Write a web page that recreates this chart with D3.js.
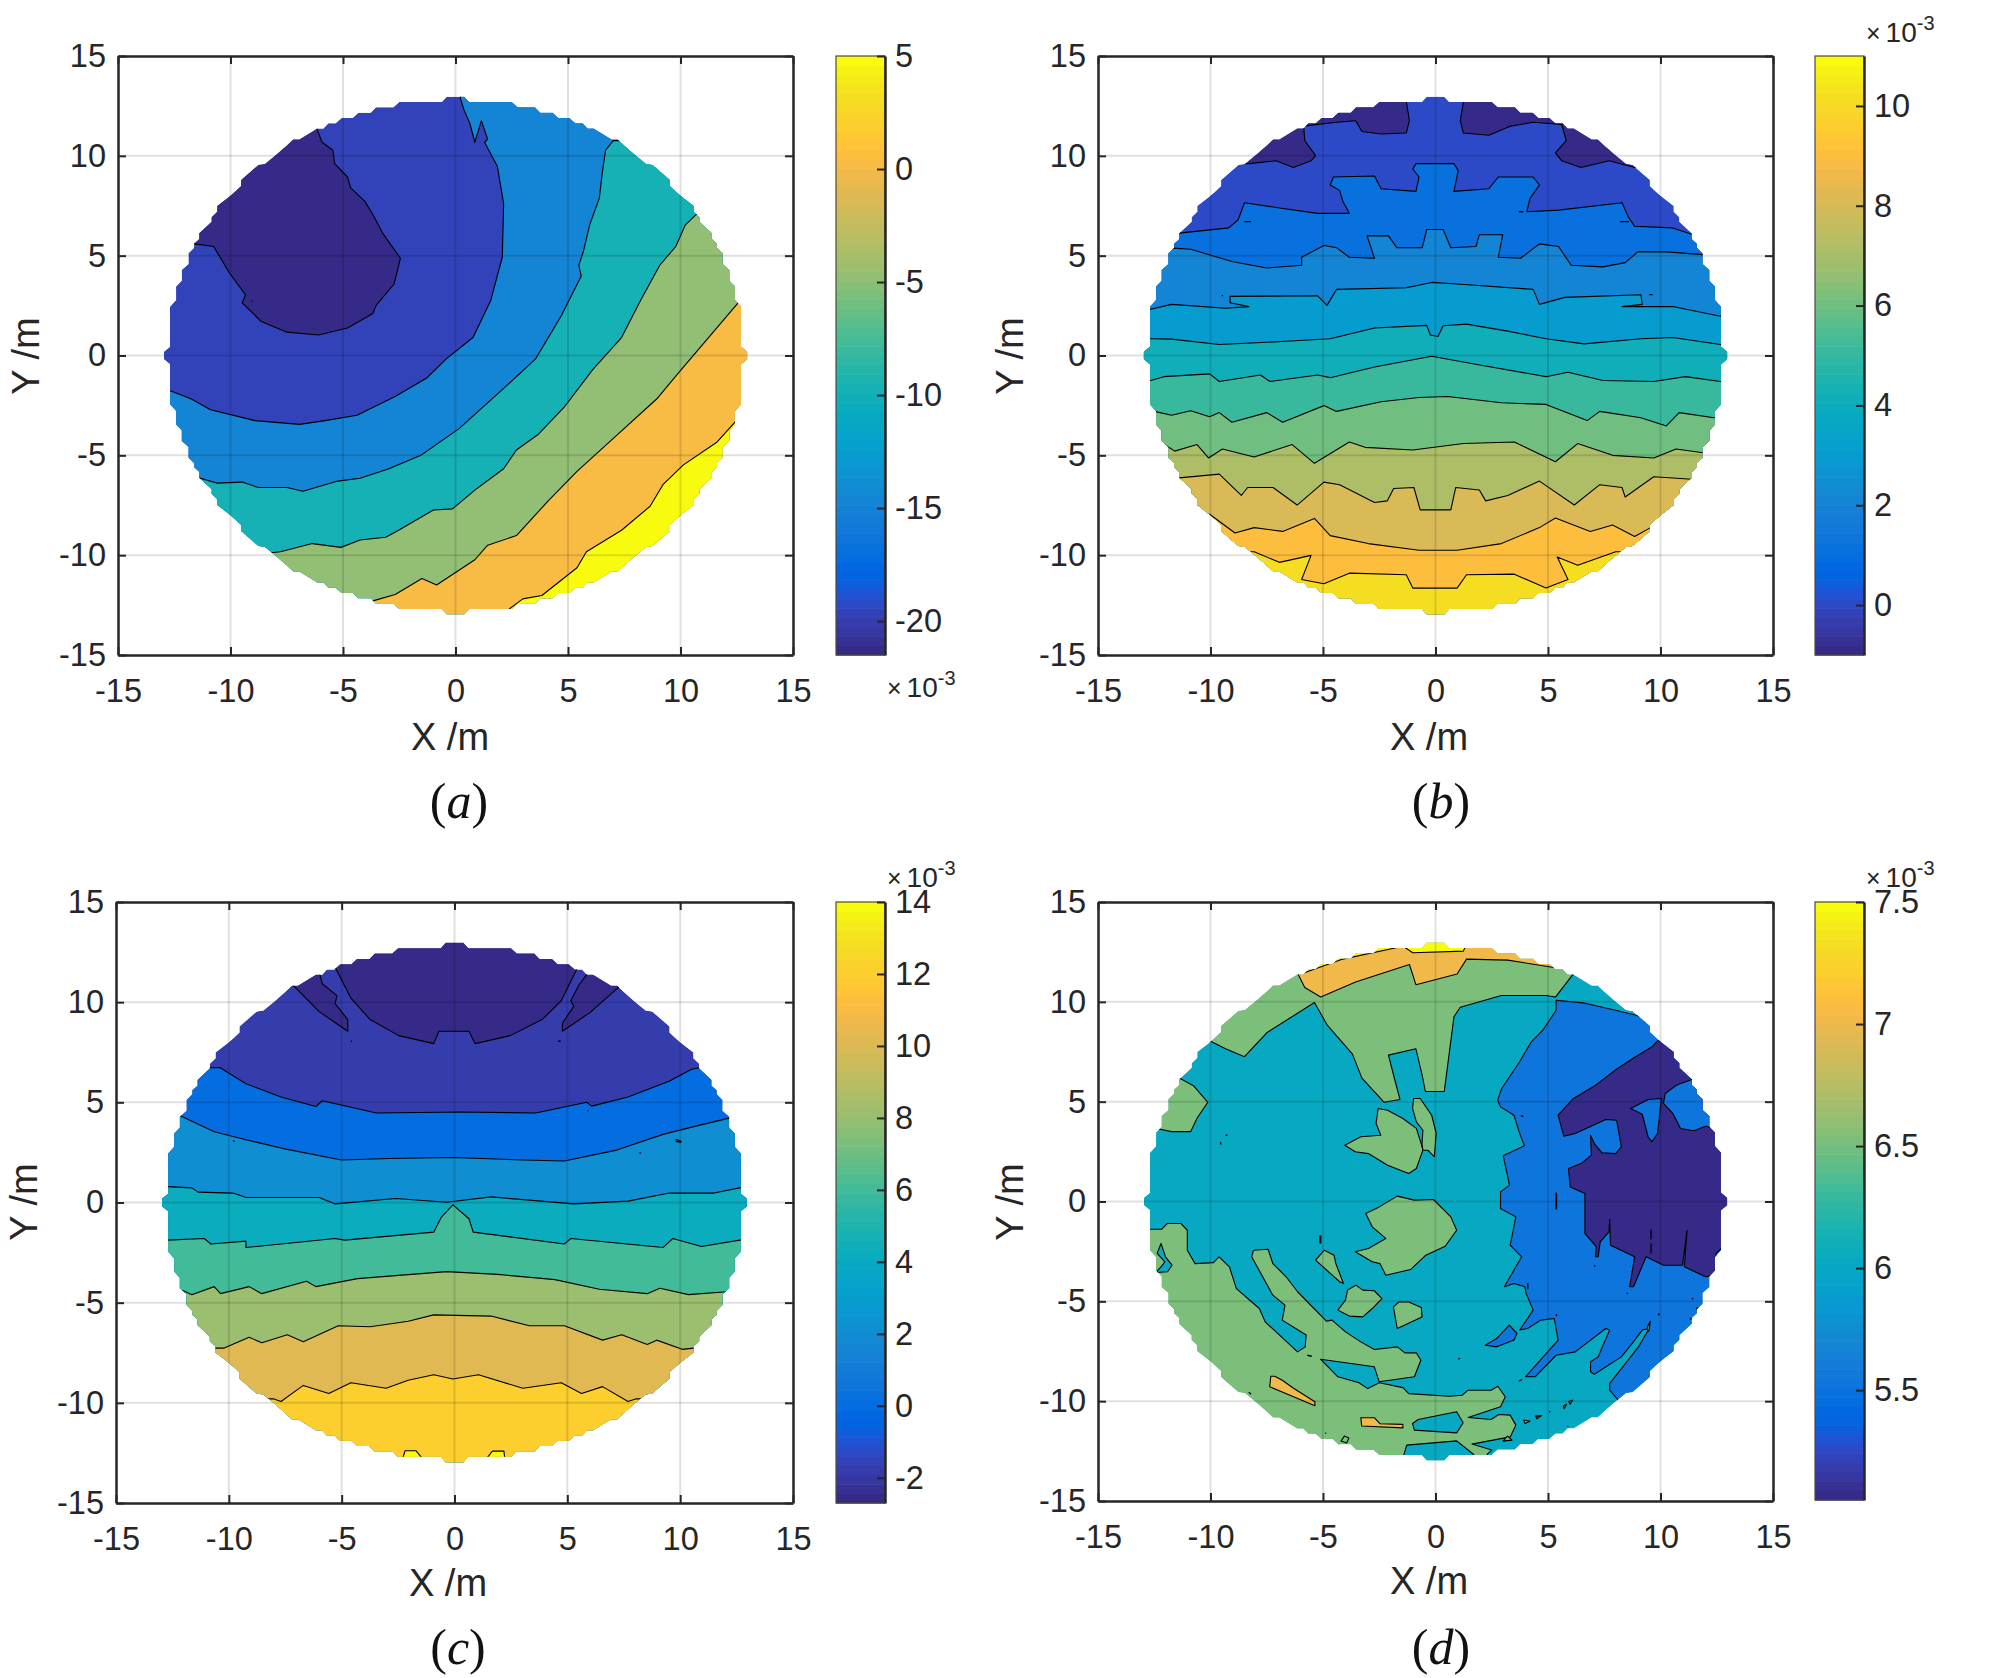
<!DOCTYPE html>
<html><head><meta charset="utf-8">
<script src="https://cdn.jsdelivr.net/npm/d3@7/dist/d3.min.js"></script>
<style>html,body{margin:0;background:#fff}svg{display:block}</style></head>
<body><svg id="c" width="1995" height="1678" xmlns="http://www.w3.org/2000/svg"></svg>
<script>
const parulaTable=[[.2081,.1663,.5292],[.2116,.1898,.5777],[.2123,.2138,.6270],[.2081,.2386,.6771],[.1959,.2645,.7279],[.1707,.2919,.7792],[.1253,.3242,.8303],[.0591,.3598,.8683],[.0117,.3875,.8820],[.0060,.4086,.8828],[.0165,.4266,.8786],[.0329,.4430,.8720],[.0498,.4586,.8641],[.0629,.4737,.8554],[.0723,.4887,.8467],[.0779,.5040,.8384],[.0793,.5200,.8312],[.0749,.5375,.8263],[.0641,.5570,.8240],[.0488,.5772,.8228],[.0343,.5966,.8199],[.0265,.6137,.8135],[.0239,.6287,.8038],[.0231,.6418,.7913],[.0228,.6535,.7768],[.0267,.6642,.7607],[.0384,.6743,.7436],[.0590,.6838,.7254],[.0843,.6928,.7062],[.1133,.7015,.6859],[.1453,.7098,.6646],[.1801,.7177,.6424],[.2178,.7250,.6193],[.2586,.7317,.5954],[.3022,.7376,.5712],[.3482,.7424,.5473],[.3953,.7459,.5244],[.4420,.7481,.5033],[.4871,.7491,.4840],[.5300,.7491,.4661],[.5709,.7485,.4494],[.6099,.7473,.4337],[.6473,.7456,.4188],[.6834,.7435,.4044],[.7184,.7411,.3905],[.7525,.7384,.3768],[.7858,.7356,.3633],[.8185,.7327,.3498],[.8507,.7299,.3360],[.8824,.7274,.3217],[.9139,.7258,.3063],[.9450,.7261,.2886],[.9739,.7314,.2666],[.9938,.7455,.2403],[.9990,.7653,.2164],[.9955,.7861,.1967],[.9880,.8066,.1794],[.9789,.8271,.1633],[.9697,.8481,.1475],[.9626,.8705,.1309],[.9589,.8949,.1132],[.9598,.9218,.0948],[.9661,.9514,.0755],[.9763,.9831,.0538]];

// stair-stepped outline of the measured disc, one quadrant in metres
const rimQuarter=[[12.96,0],[12.96,.19],[12.69,.44],[12.69,2.44],[12.42,2.78],[12.42,3.45],[12.17,3.75],[12.17,4.28],[11.87,4.58],[11.87,5.12],[11.62,5.4],[11.62,5.6],[11.39,5.83],[11.39,6.12],[10.84,6.7],[10.84,6.92],[10.59,7.2],[10.59,7.49],[10.06,7.95],[9.8,8.2],[9.53,8.49],[9.53,8.79],[8.76,9.54],[8.47,9.59],[7.97,10.05],[7.47,10.54],[7.21,10.82],[6.94,10.82],[6.14,11.37],[5.87,11.37],[5.65,11.63],[5.33,11.63],[5.06,11.89],[4.57,11.89],[4.32,12.16],[3.77,12.16],[3.53,12.43],[2.76,12.43],[2.5,12.69],[.61,12.69],[.39,12.96],[0,12.96]];
const axisTicks=[-15,-10,-5,0,5,10,15];

// Panel a: [level, polygon in metres]
const aDark=[[-6.16,11.35],[-5.93,10.68],[-5.45,10.28],[-5.37,9.61],[-4.8,8.94],[-4.66,8.4],[-4.04,7.73],[-3.67,7.06],[-3.24,6.13],[-2.45,4.87],[-2.73,3.58],[-3.53,2.51],[-3.67,2.1],[-4.8,1.38],[-6.08,1.03],[-7.49,1.17],[-8.63,1.7],[-9.48,2.64],[-9.33,3.04],[-10.04,4.12],[-10.75,5.46],[-11.6,5.59],[-14,5.6],[-14,14],[-6.16,14]];
const aM15=[[.21,12.91],[.38,12.29],[.64,11.62],[.86,10.68],[1.15,11.76],[1.43,10.82],[1.29,10.68],[1.86,9.48],[2.14,7.6],[2.08,4.92],[1.57,2.77],[.78,.9],[-.41,-.17],[-1.26,-1.11],[-2.68,-2.05],[-4.38,-2.99],[-5.79,-3.26],[-6.93,-3.45],[-8.91,-3.26],[-10.89,-2.72],[-11.74,-2.18],[-12.65,-1.78],[-14,-1.78],[-14,-14],[14,-14],[14,14],[.21,14]];
const aM10=[[7.01,10.76],[6.67,10.28],[6.53,9.21],[6.39,7.87],[5.96,6.53],[5.68,5.19],[5.48,4.52],[5.59,3.98],[4.69,1.97],[3.56,-.17],[2.14,-1.65],[.16,-3.66],[-1.54,-5],[-2.96,-5.67],[-4.24,-6.15],[-5.23,-6.29],[-6.78,-6.8],[-7.49,-6.61],[-8.77,-6.61],[-9.48,-6.34],[-10.61,-6.39],[-11.4,-6.13],[-14,-6.13],[-14,-14],[14,-14],[14,10.76]];
const aM5=[[10.69,7.06],[10.21,6.53],[9.79,5.46],[9.08,4.52],[8.23,2.77],[7.38,.9],[6.1,-.71],[4.83,-2.59],[3.7,-3.93],[2.71,-4.73],[2.14,-5.67],[.86,-6.74],[-.13,-7.68],[-.98,-7.74],[-2.53,-8.75],[-3.1,-9.1],[-4.24,-9.24],[-5.09,-9.61],[-6.36,-9.42],[-7.78,-9.83],[-8.2,-9.88],[-14,-9.88],[-14,-14],[14,-14],[14,7.06]];
const aP0=[[12.56,2.64],[11.35,1.03],[9.93,-.84],[8.94,-2.18],[7.1,-4.06],[5.4,-5.8],[4.12,-7.28],[2.71,-9.02],[1.43,-9.5],[.86,-10.23],[-.84,-11.49],[-1.49,-11.17],[-2.68,-11.97],[-3.67,-12.29],[-3.67,-14],[14,-14],[14,2.64]];
const aP5=[[12.48,-3.26],[11.63,-4.33],[10.13,-5.48],[9.22,-6.47],[8.65,-7.55],[7.38,-8.75],[5.82,-9.83],[5.4,-10.63],[3.84,-12.02],[2.99,-12.19],[2.36,-12.72],[2.36,-14],[14,-14],[14,-3.26]];
const aPatches=[[-21.5,aDark],[-15,aM15],[-10,aM10],[-5,aM5],[0,aP0],[5,aP5]];
const aSpecks=[[[-9.06,2.74],[-9.02,2.72]]];

// Panel b
const bPocketL=[[-8.29,9.61],[-7.08,9.75],[-6.32,9.42],[-5.53,9.75],[-5.33,10.01],[-5.81,10.76],[-5.86,11.49],[-4.4,11.68],[-3.55,11.76],[-3.27,11.22],[-2.42,11.09],[-1.3,11.14],[-1.16,11.76],[-1.3,12.75],[-1.3,14],[-14,14],[-14,9.61]];
const bPocketR=[[1.24,12.69],[1.1,11.76],[1.24,11.14],[2.37,11.03],[3.35,11.49],[4.34,11.68],[5.61,11.57],[5.81,10.76],[5.33,10.15],[5.61,9.75],[6.46,9.42],[7.72,9.75],[8.85,9.42],[14,9.42],[14,14],[1.24,14]];
const bC1=[[-11.39,6.13],[-9.19,6.39],[-8.77,6.8],[-8.49,7.65],[-6.94,7.39],[-5.24,7.12],[-3.83,7.12],[-4.12,7.73],[-4.26,8.27],[-4.68,8.54],[-4.54,8.94],[-2.71,8.99],[-2.42,8.35],[-.87,8.22],[-.73,8.94],[-1.01,9.34],[-.87,9.61],[.82,9.61],[1.01,9.26],[.82,8.22],[2.37,8.35],[2.79,8.94],[4.34,8.94],[4.62,8.54],[4.2,7.87],[4.06,7.2],[5.47,7.28],[8.29,7.65],[8.57,6.93],[8.85,6.47],[10.54,6.39],[11.39,6.07]];
const bC2=[[-11.67,5.38],[-10.88,5.32],[-9.05,4.71],[-7.5,4.38],[-5.95,4.52],[-5.95,4.92],[-4.96,5.51],[-4.4,5.4],[-3.83,4.92],[-2.71,4.87],[-3.04,5.99],[-2.09,5.99],[-1.72,5.4],[-.59,5.4],[-.39,6.31],[.34,6.31],[.68,5.4],[1.8,5.46],[1.95,6.05],[2.99,6.05],[2.79,4.92],[3.78,4.87],[4.62,5.59],[5.47,5.46],[6.03,4.52],[7.44,4.44],[8.43,4.65],[8.99,5.19],[10.26,5.19],[11.9,5.05]];
const bC3=[[-12.66,2.32],[-11.73,2.56],[-9.33,2.37],[-8.29,2.45],[-9.13,2.64],[-9.13,2.96],[-5.24,2.99],[-4.82,2.51],[-4.4,3.31],[-1.3,3.39],[-.17,3.66],[.96,3.58],[4.34,3.31],[4.62,2.56],[5.75,2.91],[9.13,3.04],[9.19,2.56],[8.29,2.45],[10.54,2.45],[12.66,1.97]];
const bC4=[[-12.66,.84],[-11.73,.82],[-9.61,.55],[-6.65,.71],[-4.68,.84],[-2.71,1.38],[-.39,1.51],[-.23,1.03],[.11,.95],[.34,1.49],[1.38,1.57],[3.21,1.22],[4.91,.84],[6.6,.58],[9.13,.84],[10.54,.9],[12.66,.55]];
const bC5=[[-12.66,-1.25],[-12.07,-1.06],[-10.04,-.92],[-9.61,-1.3],[-7.78,-.98],[-7.36,-1.3],[-5.24,-.98],[-4.68,-1.11],[-2.71,-.58],[-.17,-.04],[2.09,-.5],[4.91,-1.06],[5.89,-.84],[7.44,-1.25],[9.7,-1.3],[11.11,-1.06],[12.66,-1.3]];
const bC6=[[-12.49,-2.8],[-11.73,-2.99],[-10.88,-2.77],[-10.04,-3.07],[-9.61,-2.86],[-9.05,-3.34],[-7.5,-2.86],[-6.79,-3.34],[-4.96,-2.51],[-4.4,-2.8],[-2.42,-2.32],[-.73,-2.1],[.54,-2.05],[2.93,-2.37],[4.91,-2.45],[6.74,-3.26],[7.3,-2.8],[9.13,-3.12],[10.26,-3.53],[10.83,-2.86],[12.38,-3.12]];
const bC7=[[-12.15,-4.38],[-11.59,-4.79],[-10.6,-4.46],[-10.09,-5.13],[-9.47,-4.68],[-8.06,-5.08],[-6.37,-4.46],[-5.38,-5.4],[-3.83,-4.33],[-3.13,-4.6],[-1.01,-4.73],[1.24,-4.41],[3.5,-4.33],[5.33,-5.32],[6.32,-4.41],[7.87,-5],[9.7,-5.13],[10.69,-4.68],[11.9,-4.87]];
const bC8=[[-11.39,-6.13],[-9.61,-5.94],[-8.63,-7.01],[-8.35,-6.61],[-7.22,-6.61],[-6.15,-7.49],[-4.96,-6.34],[-4.26,-6.47],[-2.71,-7.36],[-2.14,-7.28],[-1.86,-6.66],[-.96,-6.61],[-.68,-7.73],[.68,-7.73],[.9,-6.61],[1.95,-6.74],[2.23,-7.28],[3.21,-7.01],[4.62,-6.29],[6.17,-7.49],[7.3,-6.47],[8.29,-6.61],[8.43,-7.09],[9.7,-6.07],[11.39,-6.2]];
const bC9=[[-10.04,-7.95],[-8.91,-8.89],[-8.06,-8.62],[-6.79,-8.81],[-5.38,-8.16],[-4.68,-9.02],[-2.99,-9.42],[-.73,-9.75],[.96,-9.75],[2.93,-9.42],[4.62,-8.62],[5.33,-8.14],[6.88,-8.81],[7.87,-8.49],[8.85,-9.07],[9.56,-8.62]];
const bC10=[[-8.06,-9.83],[-6.94,-10.36],[-5.53,-10.01],[-5.95,-11.22],[-4.96,-11.43],[-3.83,-10.9],[-1.3,-10.98],[-1.01,-11.65],[.96,-11.65],[1.38,-10.98],[3.5,-10.95],[4.91,-11.65],[5.89,-11.22],[5.41,-10.09],[6.32,-10.5],[8.01,-9.83]];
const bLines=[[1,bC1],[2,bC2],[3,bC3],[4,bC4],[5,bC5],[6,bC6],[7,bC7],[8,bC8],[9,bC9],[10,bC10]];
const bSpecks=[[[-8.5,6.7],[-8.2,6.7]],[[3.7,7.2],[3.9,7.2]],[[8.2,6.7],[8.6,6.7]],[[-9.5,3.0],[-9.45,3.0]],[[9.5,3.05],[9.65,3.05]],[[-1.9,-12.75],[-1.5,-12.75]],[[1.4,-12.75],[1.5,-12.75]]];

// Panel c
const cCap=[[-5.35,11.88],[-4.59,10.2],[-3.74,9.13],[-2.47,8.33],[-.92,7.93],[-.69,8.55],[.64,8.55],[.92,7.93],[2.47,8.33],[3.88,9.13],[4.73,10.07],[5.43,11.67],[5.43,14],[-5.35,14]];
const cPocketL=[[-7.4,11.08],[-6.98,10.65],[-6,9.53],[-4.73,8.55],[-4.73,9.13],[-5.29,9.93],[-5.21,10.33],[-5.86,10.92],[-6,11.53],[-6,14],[-14,14],[-14,11.08]];
const cPocketR=[[6.14,11.8],[5.52,10.87],[5.15,10.07],[5.29,9.8],[4.78,8.95],[4.78,8.55],[6,9.48],[7.13,10.6],[7.41,10.87],[14,10.87],[14,14],[6.14,14]];
const cC0=[[-10.85,6.73],[-10.38,6.73],[-9.24,5.93],[-7.69,5.27],[-6.14,4.79],[-5.86,5.08],[-3.46,4.47],[.21,4.52],[3.6,4.47],[5.86,5],[6.08,4.81],[7.69,5.27],[9.53,6.07],[10.51,6.65],[10.88,6.73]];
const cC2=[[-12.15,4.33],[-10.65,3.53],[-9.24,3.13],[-7.41,2.65],[-5.01,2.12],[-2.89,2.2],[-.07,2.25],[3.03,2.12],[4.87,2.07],[7.13,2.6],[9.24,3.4],[10.65,3.8],[12.12,4.2]];
const cC4=[[-12.71,.79],[-11.64,.73],[-11.36,.52],[-9.81,.47],[-9.24,.25],[-6,.25],[-5.29,-.07],[-2.61,.2],[-.35,.01],[1.62,.28],[5.29,-.07],[7.69,.07],[9.53,.47],[11.5,.47],[12.63,.73]];
const cC6=[[-12.71,-1.88],[-11.08,-1.8],[-10.8,-2.07],[-9.24,-1.93],[-9.24,-2.25],[-5.29,-1.8],[-4.87,-1.88],[-.92,-1.48],[-.58,-.73],[-.07,-.12],[.64,-.81],[.83,-1.48],[4.87,-2.07],[5.15,-1.8],[9.24,-2.25],[9.67,-1.8],[10.94,-2.2],[12.63,-1.88]];
const cC8=[[-12.01,-4.41],[-11.64,-4.6],[-10.65,-4.2],[-10.37,-4.55],[-9.1,-4.2],[-8.54,-4.55],[-6.56,-3.93],[-6.14,-4.2],[-4.3,-3.8],[-.35,-3.45],[1.91,-3.59],[4.45,-3.85],[6.42,-4.33],[8.54,-4.55],[9.1,-4.28],[10.37,-4.6],[11.92,-4.47]];
const cC10=[[-10.57,-7.27],[-10.23,-7.27],[-9.1,-6.73],[-8.54,-7],[-7.41,-6.6],[-6.7,-6.95],[-5.15,-6.15],[-3.74,-6.2],[-2.05,-5.93],[-.92,-5.61],[1.62,-5.67],[3.32,-6.15],[4.87,-6.15],[6.56,-6.87],[7.41,-6.6],[8.54,-7.09],[8.96,-6.87],[10.09,-7.33],[10.6,-7.27]];
const cC12=[[-8.03,-9.8],[-7.69,-9.93],[-6.7,-9.13],[-5.57,-9.53],[-4.59,-9],[-3.03,-9.27],[-2.05,-8.87],[-.92,-8.6],[-.07,-8.81],[1.06,-8.6],[3.03,-9.27],[4.73,-9],[5.63,-9.53],[6.56,-9.19],[7.69,-9.93],[8.06,-9.8]];
const cLines=[[0,cC0],[2,cC2],[4,cC4],[6,cC6],[8,cC8],[10,cC10],[12,cC12]];
const cTop1=[[-2.33,-12.9],[-2.19,-12.39],[-1.71,-12.39],[-1.34,-12.9]];
const cTop2=[[1.34,-12.9],[1.68,-12.41],[2.19,-12.41],[2.24,-12.9]];
const cSpecks=[[[-9.8,3.1],[-9.75,3.05]],[[-4.6,8.05],[-4.55,8.05]],[[4.6,8.05],[4.7,8.05]],[[5.9,4.6],[5.92,4.55]],[[8.2,2.5],[8.25,2.45]],[[9.8,3.05],[10.05,3.0]],[[9.8,3.15],[10.05,3.05]]];

// Panel d
const dTop=[[-10.04,8.05],[-9.33,7.65],[-8.49,7.25],[-7.5,8.45],[-5.38,9.97],[-4.82,8.85],[-3.69,7.38],[-3.27,6.18],[-2.28,4.97],[-1.58,5.11],[-1.86,6.31],[-2.09,7.33],[-.87,7.65],[-.59,6.31],[-.45,5.51],[.39,5.51],[.82,9.25],[1.1,9.73],[2.93,10.32],[4.91,10.32],[5.33,10.24],[6.12,11.39],[6.12,14],[-14,14],[-14,8.05]];
const dOrangeTop=[[-6.09,11.34],[-5.81,10.72],[-5.1,10.24],[-3.55,10.99],[-1.16,11.87],[-.87,10.86],[.96,11.39],[1.38,12.14],[3.21,12.09],[5.33,11.71],[5.33,14],[-6.09,14]];
const dYellowTop=[[-5.86,11.44],[-4.12,12.14],[-1.44,12.78],[-1.01,12.46],[1.24,12.54],[1.33,12.78],[1.33,14],[-5.86,14]];
const dLeftBlob=[[-11.39,6.18],[-10.74,5.78],[-10.12,4.97],[-10.6,4.17],[-10.88,3.5],[-11.73,3.5],[-12.35,3.64],[-14,3.64],[-14,6.18]];
const dLower=[[-12.68,-1.39],[-12.17,-1.39],[-11.91,-1.1],[-11.32,-1.1],[-11.03,-1.44],[-11.03,-2.44],[-10.69,-3.11],[-9.87,-3.06],[-9.62,-2.77],[-9.16,-3.27],[-8.85,-4.36],[-7.83,-5.36],[-7.57,-6.03],[-6.13,-7.53],[-5.79,-7.28],[-5.75,-6.69],[-6.81,-5.94],[-6.69,-5.19],[-7.23,-4.69],[-8.17,-2.77],[-8.09,-2.44],[-7.44,-2.39],[-7.23,-3.11],[-6.64,-3.77],[-6.13,-4.52],[-4.85,-5.99],[-4.6,-5.94],[-4,-6.53],[-3.32,-7.03],[-2.72,-7.41],[-1.7,-7.28],[-1.36,-7.58],[-.85,-7.58],[-.65,-7.95],[-.94,-8.78],[-2.5,-9.03],[-2.72,-8.28],[-5.11,-7.9],[-4.34,-8.78],[-3.4,-9.08],[-3.01,-9.37],[-2.5,-9.08],[-1.45,-9.32],[-1.19,-9.62],[.6,-9.75],[1.19,-9.7],[1.45,-9.45],[2.47,-9.45],[2.77,-9.25],[3.1,-9.78],[2.89,-10.28],[1.45,-10.82],[2.47,-10.92],[2.81,-10.67],[3.32,-10.7],[3.57,-11.2],[3.32,-11.79],[1.62,-12.15],[2.5,-12.45],[2.3,-12.65],[2.3,-14],[-14,-14],[-14,-1.39]];
const dTealHook=[[-12.2,-2.1],[-12,-2.77],[-11.71,-3.19],[-11.91,-3.52],[-12.43,-3.56],[-12.2,-3.27],[-12.03,-3.02],[-12.37,-2.6]];
const dTealBottom=[[-1.41,-12.7],[-1.28,-12.2],[.94,-11.99],[1.7,-12.67],[1.7,-14],[-1.41,-14]];
const dTealMid=[[-1.02,-11.12],[-.94,-11.45],[.94,-11.59],[1.23,-11.08],[.94,-10.53],[-.77,-10.92]];
const dOrange1=[[-7.32,-8.75],[-7.37,-9.28],[-5.36,-10.23],[-5.36,-10.03],[-6.31,-9.35],[-6.81,-8.95],[-7.14,-8.75]];
const dOrange2=[[-3.32,-10.83],[-3.28,-11.24],[-1.45,-11.34],[-1.45,-11.16],[-2.47,-11.13],[-2.72,-10.83]];
const dIslandA=[[-2.55,4.66],[-2.64,3.91],[-2.43,3.32],[-3.32,3.24],[-4.03,2.82],[-3.57,2.49],[-2.98,2.4],[-2.13,1.82],[-1.19,1.4],[-.85,1.65],[-.56,2.57],[-.63,2.87],[-.85,3.66],[-1.45,4.16],[-2.13,4.57]];
const dIslandA2=[[-.97,5.16],[-.68,5.16],[-.17,4.32],[.03,3.41],[-.05,2.24],[-.34,2.57],[-.56,2.57],[-.6,2.87],[-.56,3.57],[-.85,3.99],[-1.02,4.66]];
const dIslandB=[[-1.7,.27],[-2.5,-.27],[-3.1,-.6],[-2.81,-1.27],[-2.21,-1.85],[-2.98,-2.35],[-3.57,-2.52],[-2.81,-3.02],[-2.47,-3.11],[-2.21,-3.69],[-1.11,-3.41],[-.43,-2.69],[.43,-2.24],[.94,-1.44],[.68,-.77],[-.09,.1],[-.94,.07]];
const dIslandC=[[-4.94,-2.44],[-5.33,-2.94],[-4.26,-4.02],[-4.09,-4.11],[-4.43,-3.11],[-4.51,-2.69]];
const dIslandD=[[-3.54,-4.19],[-3.91,-4.44],[-4,-4.94],[-4.34,-5.44],[-3.83,-5.74],[-3.23,-5.78],[-2.81,-5.36],[-2.38,-4.86],[-2.72,-4.47],[-3.23,-4.44]];
const dIslandE=[[-1.87,-5.28],[-1.7,-6.36],[-.6,-5.78],[-.63,-5.31],[-1.19,-5.03],[-1.62,-5.03]];
const dBlue=[[9.19,9.25],[8,9.58],[6.55,9.95],[5.36,10.08],[5.36,9.58],[4.77,8.58],[4.26,8],[3.74,7],[2.94,5.66],[2.76,5.08],[2.89,4.74],[3.49,4.32],[3.74,3.41],[3.95,2.79],[3.01,2.29],[3.29,.82],[2.89,.48],[2.89,-.35],[3.57,-.77],[3.32,-2.19],[3.83,-2.77],[3.06,-4.27],[3.49,-4.11],[3.97,-4.27],[4.03,-4.61],[4.34,-5.44],[3.74,-6.44],[4.09,-6.36],[4.68,-5.94],[5.28,-5.86],[5.45,-6.94],[4,-8.78],[4.43,-8.78],[5.36,-7.7],[6.21,-7.53],[7.57,-6.36],[7.74,-6.44],[7.23,-7.78],[6.89,-8.03],[6.89,-8.53],[7.06,-8.65],[8.26,-7.78],[8.68,-7.2],[9.19,-6.44],[9.5,-6.36],[9.02,-7.28],[7.74,-9.12],[7.74,-9.45],[8.12,-9.95],[9,-11],[14,-14],[14,9.25]];
const dBlueIsle=[[2.21,-7.2],[2.72,-7.28],[3.49,-6.94],[3.62,-6.61],[3.28,-6.19],[2.72,-6.86]];
const dDark=[[9.87,8.05],[9.62,7.75],[8.77,7.16],[8.09,6.66],[7.06,5.78],[6.13,5.16],[5.45,4.32],[5.7,3.27],[6.21,3.41],[7.57,4.11],[8.05,4.07],[8.26,2.74],[8,2.4],[7.4,2.44],[7.06,2.9],[6.89,3.32],[6.93,2.32],[6.47,1.9],[5.91,1.65],[5.99,.73],[6.64,.4],[6.64,-1.6],[7.15,-2.27],[7.11,-2.77],[7.23,-2.77],[7.32,-2.02],[7.71,-1.52],[7.74,-.9],[7.78,-2.19],[8.85,-2.77],[8.63,-4.27],[8.8,-4.27],[9.36,-2.77],[10.13,-3.19],[10.98,-3.19],[11.18,-1.44],[11.06,-3.27],[12,-3.77],[12.43,-3.69],[12.48,-2.6],[12.71,-2.35],[14,-2.35],[14,8.05]];
const dRimPocket=[[11.4,6.11],[10.72,5.83],[10.21,5.41],[10.13,4.91],[10.55,4.41],[10.89,3.66],[11.49,3.54],[12,3.77],[12.48,3.66],[14,3.66],[14,6.11]];
const dHole=[[8.68,4.66],[9.19,4.37],[9.45,3.24],[9.62,2.99],[9.87,3.41],[10.04,5.16],[9.45,5.11]];
const dTiny=[[[3.92,-10.95],[4.2,-11.0],[3.98,-11.12]],[[4.45,-10.75],[4.72,-10.72],[4.5,-10.88]],[[5.68,-10.25],[5.82,-10.15],[5.72,-10.38]],[[5.92,-10.02],[6.1,-9.95],[5.98,-10.15]],[[-4.2,-12.0],[-4.05,-11.75],[-3.85,-11.85],[-3.95,-12.1]],[[3,-12.0],[3.2,-11.75],[3.4,-11.95]],[[9.45,-6.2],[9.55,-6],[9.48,-6.5],[9.4,-6.4]]];
const dSpecks=[[[5.36,.45],[5.36,-.4]],[[5.38,.4],[5.38,-.35]],[[9.58,-1.4],[9.58,-1.9]],[[9.58,-2.1],[9.58,-2.6]],[[-5.14,-1.7],[-5.14,-2.1]],[[-5.1,-1.7],[-5.1,-2.1]],[[3.8,4.3],[3.9,4.25]],[[-9.33,3.3],[-9.25,3.35]],[[-9.55,2.98],[-9.55,2.85]],[[4.1,-4.1],[4.1,-4.4]],[[5.38,-5.65],[5.38,-5.75]],[[-5.7,-7.7],[-5.5,-7.75]],[[1,-7.9],[1.1,-7.85]],[[3.7,-9],[3.85,-8.9]],[[5.05,-10.55],[5.1,-10.5]],[[-8.3,-9.55],[-8.2,-9.65]],[[-4.9,-11.6],[-4.85,-11.6]],[[-4.35,-12.2],[-4.25,-12.2]],[[5.87,-11.25],[5.9,-11.27]],[[11.4,-4.9],[11.45,-4.85]],[[11.6,-5.4],[11.65,-5.3]],[[11.3,-5.9],[11.4,-5.85]],[[8.5,-4.6],[8.55,-4.6]],[[7.05,-3.25],[7.1,-3.2]],[[9.9,-5.7],[9.95,-5.6]]];

const cbarA=[-21.5,5],cbarB=[-1,11],cbarC=[-2.7,14],cbarD=[5.05,7.5];
const cbarTicksA=[-20,-15,-10,-5,0,5],cbarTicksB=[0,2,4,6,8,10],cbarTicksC=[-2,0,2,4,6,8,10,12,14],cbarTicksD=[5.5,6,6.5,7,7.5];

const closeBelow=p=>[...p,[14,p[p.length-1][1]],[14,-14],[-14,-14],[-14,p[0][1]]];
const ink="#262626";
const svg=d3.select("#c");
const parula=t=>{const q=parulaTable[Math.max(0,Math.min(63,Math.round(t*64)))];return d3.rgb(q[0]*255,q[1]*255,q[2]*255).formatHex()};

function panel(o){
  const g=svg.append("g");
  const x=d3.scaleLinear([-15,15],[o.l,o.r]),y=d3.scaleLinear([-15,15],[o.b,o.t]);
  const c=d3.scaleLinear(o.clim,[0,1]);
  const line=d3.line().x(d=>x(d[0])).y(d=>y(d[1]));
  const q=rimQuarter;
  const rim=[...q,...q.slice().reverse().map(([a,b])=>[-a,b]),...q.map(([a,b])=>[-a,-b]),...q.slice().reverse().map(([a,b])=>[a,-b])];
  const id="clip"+o.name;
  svg.append("clipPath").attr("id",id).append("path").attr("d",line(rim)+"Z");
  const body=g.append("g").attr("clip-path",`url(#${id})`);
  body.append("path").attr("d",line(rim)+"Z").attr("fill",parula(c(o.base)));
  body.selectAll("path.band").data(o.patches).join("path").attr("class","band")
    .attr("d",d=>line(d[1])+"Z").attr("fill",d=>parula(c(d[0]))).attr("stroke","#000").attr("stroke-width",1.1).attr("stroke-linejoin","round");
  body.selectAll("path.speck").data(o.specks||[]).join("path").attr("class","speck")
    .attr("d",d=>line(d)).attr("fill","none").attr("stroke","#000").attr("stroke-width",1.3);
  const grid=g.append("g").attr("stroke","#000").attr("stroke-opacity",.12).attr("stroke-width",2);
  grid.selectAll("line.v").data(axisTicks.slice(1,-1)).join("line").attr("class","v").attr("x1",x).attr("x2",x).attr("y1",o.t).attr("y2",o.b);
  grid.selectAll("line.h").data(axisTicks.slice(1,-1)).join("line").attr("class","h").attr("y1",y).attr("y2",y).attr("x1",o.l).attr("x2",o.r);
  const styl=s=>{s.selectAll("path.domain").attr("stroke",ink).attr("stroke-width",2.5);s.selectAll("line").attr("stroke",ink).attr("stroke-width",2);
    s.selectAll("text").attr("fill",ink).attr("font-family","'Liberation Sans',Arial,sans-serif").attr("font-size",32.5);};
  g.append("g").attr("transform",`translate(0,${o.b})`).call(d3.axisBottom(x).tickValues(axisTicks).tickFormat(String).tickSize(-8).tickSizeOuter(0).tickPadding(24)).call(styl);
  g.append("g").attr("transform",`translate(0,${o.t})`).call(d3.axisTop(x).tickValues(axisTicks).tickFormat("").tickSize(-8).tickSizeOuter(0)).call(styl);
  g.append("g").attr("transform",`translate(${o.l},0)`).call(d3.axisLeft(y).tickValues(axisTicks).tickFormat(String).tickSize(-8).tickSizeOuter(0).tickPadding(12)).call(styl);
  g.append("g").attr("transform",`translate(${o.r},0)`).call(d3.axisRight(y).tickValues(axisTicks).tickFormat("").tickSize(-8).tickSizeOuter(0)).call(styl);
  const txt=(tx,ty,s,size)=>g.append("text").attr("x",tx).attr("y",ty).attr("text-anchor","middle").attr("dominant-baseline","middle").attr("fill",ink)
    .attr("font-family","'Liberation Sans',Arial,sans-serif").attr("font-size",size).text(s);
  txt(o.xl[0],o.xl[1],"X /m",38);
  txt(0,0,"Y /m",38).attr("x",null).attr("y",null).attr("transform",`translate(${o.yl[0]},${o.yl[1]}) rotate(-90)`);
  const cap=g.append("text").attr("x",o.cap[0]).attr("y",o.cap[1]).attr("text-anchor","middle").attr("dominant-baseline","middle")
    .attr("font-family","'Liberation Serif','Times New Roman',serif").attr("font-size",50).attr("fill","#111");
  cap.append("tspan").text("(");cap.append("tspan").attr("font-style","italic").text(o.name);cap.append("tspan").text(")");
  // colour bar
  const cy=d3.scaleLinear(o.clim,[o.cb,o.ct]);
  const steps=d3.range(64);
  const h=(o.cb-o.ct)/64;
  g.append("g").selectAll("rect").data(steps).join("rect").attr("x",o.c0).attr("width",o.c1-o.c0)
    .attr("y",i=>cy(o.clim[0]+(o.clim[1]-o.clim[0])*(i+1)/64)).attr("height",h+.6).attr("fill",i=>parula(i/64));
  g.append("rect").attr("x",o.c0).attr("y",o.ct).attr("width",o.c1-o.c0).attr("height",o.cb-o.ct).attr("fill","none").attr("stroke","#4d4a3a").attr("stroke-width",1.2);
  g.append("g").attr("transform",`translate(${o.c1},0)`).call(d3.axisRight(cy).tickValues(o.cticks).tickFormat(String).tickSize(-8).tickSizeOuter(0).tickPadding(10)).call(styl);
  const m=g.append("text").attr("x",o.mult[0]).attr("y",o.mult[1]).attr("fill",ink).attr("font-family","'Liberation Sans',Arial,sans-serif").attr("font-size",28);
  m.append("tspan").attr("font-size",25).text("×");
  m.append("tspan").attr("dx",5).text("10");
  m.append("tspan").attr("dy",-12).attr("font-size",20).text("-3");
}

panel({name:"a",l:118,r:793,t:56,b:655,c0:836,c1:885,ct:56,cb:655,clim:cbarA,cticks:cbarTicksA,base:-20,patches:aPatches,specks:aSpecks,
  xl:[450,740],yl:[29,356],cap:[459,807],mult:[887,697]});
panel({name:"b",l:1098,r:1773,t:56,b:655,c0:1815,c1:1864,ct:56,cb:655,clim:cbarB,cticks:cbarTicksB,base:0,
  patches:[[-1,bPocketL],[-1,bPocketR],...bLines.map(d=>[d[0],closeBelow(d[1])])],specks:bSpecks,
  xl:[1429,740],yl:[1013,356],cap:[1441,807],mult:[1866,42]});
panel({name:"c",l:116,r:793,t:902,b:1503,c0:836,c1:885,ct:902,cb:1503,clim:cbarC,cticks:cbarTicksC,base:-2,
  patches:[[-2.7,cCap],[-2.7,cPocketL],[-2.7,cPocketR],...cLines.map(d=>[d[0],closeBelow(d[1])]),[14,cTop1],[14,cTop2]],specks:cSpecks,
  xl:[448,1586],yl:[27,1202],cap:[458,1653],mult:[887,887]});
panel({name:"d",l:1098,r:1773,t:902,b:1501,c0:1815,c1:1864,ct:902,cb:1500,clim:cbarD,cticks:cbarTicksD,base:6,
  patches:[[6.5,dTop],[7,dOrangeTop],[7.5,dYellowTop],[6.5,dLeftBlob],[6.5,dLower],[6,dTealHook],[6,dTealBottom],[6,dTealMid],[7,dOrange1],[7,dOrange2],
    [6.5,dIslandA],[6.5,dIslandA2],[6.5,dIslandB],[6.5,dIslandC],[6.5,dIslandD],[6.5,dIslandE],[5.5,dBlue],[5.5,dBlueIsle],[5.06,dDark],[5.5,dRimPocket],[5.5,dHole],
    ...dTiny.map(t=>[6.5,t])],specks:dSpecks,
  xl:[1429,1584],yl:[1013,1202],cap:[1441,1653],mult:[1866,887]});
</script></body></html>
